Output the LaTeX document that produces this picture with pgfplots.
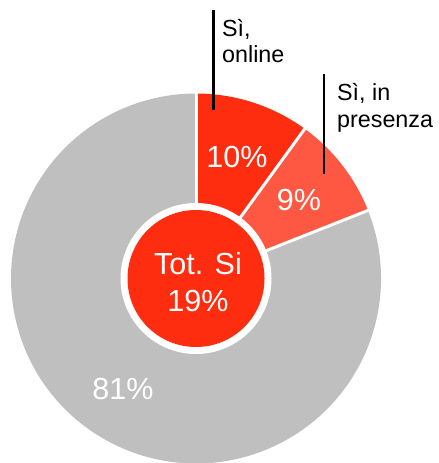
\documentclass[border=0pt]{standalone}
\usepackage{pgfplots}
\pgfplotsset{compat=1.18}
\usepackage{fontspec}
\setmainfont{Liberation Sans}
\definecolor{cRed}{RGB}{255,45,16}
\definecolor{cLight}{RGB}{255,88,66}
\definecolor{cGray}{RGB}{191,191,191}
\begin{document}
\begin{tikzpicture}
\begin{axis}[x=1bp,y=1bp,xmin=0,xmax=439,ymin=0,ymax=463,hide axis,clip=true]
\draw[draw=none] (axis cs:0,0) rectangle (axis cs:439,463);
% values: Si online 10, Si in presenza 9, No 81 (cumulative 0,10,19,100)
\fill[cRed] (axis cs:196,184.5) -- ++({90-3.6*0}:185bp) arc[start angle={90-3.6*0}, end angle={90-3.6*10}, radius=185bp] -- cycle;
\fill[cLight] (axis cs:196,184.5) -- ++({90-3.6*10}:185bp) arc[start angle={90-3.6*10}, end angle={90-3.6*19}, radius=185bp] -- cycle;
\fill[cGray] (axis cs:196,184.5) -- ++({90-3.6*19}:185bp) arc[start angle={90-3.6*19}, end angle={90-3.6*100}, radius=185bp] -- cycle;
\draw[white,line width=3bp] (axis cs:196,184.5) -- ++({90-3.6*0}:190bp);
\draw[white,line width=3bp] (axis cs:196,184.5) -- ++({90-3.6*10}:190bp);
\draw[white,line width=3bp] (axis cs:196,184.5) -- ++({90-3.6*19}:190bp);
\fill[white] (axis cs:196,184.5) circle[radius=75.5bp];
\fill[cRed] (axis cs:196,184.5) circle[radius=68.5bp];
\node[white,font=\fontsize{30.5bp}{36bp}\selectfont] at (axis cs:237,306) {10\%};
\node[white,font=\fontsize{30.5bp}{36bp}\selectfont] at (axis cs:299,263) {9\%};
\node[white,font=\fontsize{30.5bp}{36bp}\selectfont] at (axis cs:123,74) {81\%};
\node[white,font=\fontsize{30.5bp}{36bp}\selectfont] at (axis cs:198,199) {Tot. Si};
\node[white,font=\fontsize{30.5bp}{36bp}\selectfont] at (axis cs:198,162) {19\%};
\draw[black,line width=2.8bp] (axis cs:213.3,453) -- (axis cs:213.3,353);
\draw[black,line width=2.8bp] (axis cs:324,389) -- (axis cs:324,289);
\node[anchor=base west,inner sep=0pt,font=\fontsize{23.3bp}{27bp}\selectfont] at (axis cs:222,426) {Sì,};
\node[anchor=base west,inner sep=0pt,font=\fontsize{23.3bp}{27bp}\selectfont] at (axis cs:222,400) {online};
\node[anchor=base west,inner sep=0pt,font=\fontsize{23.3bp}{27bp}\selectfont] at (axis cs:337,362) {Sì, in};
\node[anchor=base west,inner sep=0pt,font=\fontsize{23.3bp}{27bp}\selectfont] at (axis cs:337,335) {presenza};
\end{axis}
\end{tikzpicture}
\end{document}
